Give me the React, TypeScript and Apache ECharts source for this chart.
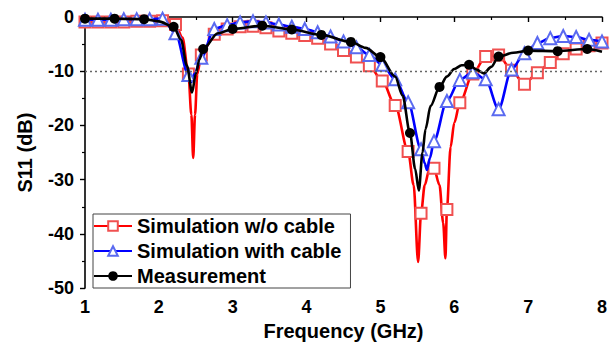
import React, { useEffect, useRef } from "react";
import * as echarts from "echarts";

// Frequencies (GHz) where the simulated curves carry their markers
const simFreq = [
  1.0, 1.175, 1.35, 1.525, 1.7, 1.875, 2.05, 2.225, 2.4, 2.575, 2.75, 2.925, 3.1, 3.275,
  3.45, 3.625, 3.8, 3.975, 4.15, 4.325, 4.5, 4.675, 4.85, 5.025, 5.2, 5.375, 5.55, 5.725,
  5.9, 6.075, 6.25, 6.425, 6.6, 6.775, 6.95, 7.125, 7.3, 7.475, 7.65, 7.825, 8.0,
];

// Simulation without cable (dB) at the marker frequencies
const noCableS11 = [
  -0.9, -0.9, -0.9, -0.9, -0.8, -0.8, -0.7, -1.4, -10.5, -7.0, -3.2, -2.2, -1.8, -1.7,
  -2.0, -2.6, -3.0, -3.4, -3.9, -5.0, -6.2, -7.4, -9.0, -11.8, -16.3, -24.8, -36.2, -27.9,
  -35.5, -15.8, -10.5, -7.3, -7.0, -9.8, -12.4, -10.3, -8.4, -6.8, -5.9, -5.3, -4.8,
];
// Extra points of the same curve around its sharp resonances
const noCableExtraFreq = [2.32, 2.44, 2.465, 2.49, 2.52, 5.45, 5.51, 5.6, 5.66, 5.8, 5.85, 5.88, 5.95, 6.0];
const noCableExtraS11 = [-3.8, -18.0, -26.0, -18.0, -10.5, -31.0, -45.2, -31.0, -28.2, -31.0, -38.0, -44.5, -24.0, -19.5];

// Simulation with cable (dB) at the marker frequencies
const withCableS11 = [
  -0.5, -0.5, -0.5, -0.4, -0.4, -0.4, -0.3, -3.0, -10.7, -7.5, -2.2, -1.5, -1.0, -0.8,
  -1.0, -1.4, -1.8, -2.2, -2.8, -3.6, -4.5, -5.6, -7.0, -8.8, -11.5, -15.7, -24.4, -22.9,
  -15.5, -11.6, -10.2, -11.5, -17.0, -9.7, -6.7, -4.8, -3.9, -3.5, -3.7, -4.2, -4.5,
];
const withCableExtraFreq = [2.44, 2.48, 5.6, 5.63, 5.67];
const withCableExtraS11 = [-12.0, -10.5, -27.0, -28.2, -26.0];

// Measurement (dB): marked points and intermediate points of the curve
const measFreq = [1.0, 1.4, 1.8, 2.2, 2.6, 3.0, 3.4, 3.8, 4.2, 4.6, 5.0, 5.4, 5.8, 6.2, 6.6, 7.0, 7.4, 7.8];
const measS11 = [-0.3, -0.3, -0.4, -1.8, -5.9, -2.2, -1.6, -2.3, -3.3, -4.6, -7.4, -21.4, -12.9, -8.8, -7.3, -6.2, -6.3, -5.9];
const measExtraFreq = [
  2.0, 2.3, 2.38, 2.45, 2.5, 2.55, 2.8, 4.8, 5.2, 5.3, 5.47, 5.52, 5.57, 5.61, 5.68, 5.9, 6.0,
  6.1, 6.3, 6.4, 6.5, 6.8, 8.0,
];
const measExtraS11 = [
  -0.8, -4.2, -9.0, -13.9, -10.5, -7.8, -3.0, -5.7, -11.0, -14.5, -28.0, -32.0, -25.0, -20.7,
  -16.4, -11.0, -9.6, -8.9, -9.7, -10.4, -9.2, -6.6, -6.4,
];

const xTicks = [1, 2, 3, 4, 5, 6, 7, 8];
const yTicks = [-50, -40, -30, -20, -10, 0];
const threshold = -10;

const FONT = "'Liberation Sans', Arial, sans-serif";

function buildCurve(mx: number[], my: number[], ex: number[], ey: number[]) {
  const pts: any[] = [];
  mx.forEach((x, i) => pts.push({ value: [x, my[i]] }));
  ex.forEach((x, i) => pts.push({ value: [x, ey[i]], symbol: "none" }));
  pts.sort((a, b) => a.value[0] - b.value[0]);
  return pts;
}

export default function App() {
  const ref = useRef<HTMLDivElement>(null);

  useEffect(() => {
    if (!ref.current) return;
    const chart = echarts.init(ref.current, undefined, { renderer: "svg" });

    const axisLabel = {
      color: "#000",
      fontSize: 18,
      fontWeight: "bold" as const,
      fontFamily: FONT,
    };

    chart.setOption({
      animation: false,
      backgroundColor: "#fff",
      grid: { left: 85, right: 13, top: 17, bottom: 56, containLabel: false },
      xAxis: {
        type: "value",
        min: xTicks[0],
        max: xTicks[xTicks.length - 1],
        interval: 1,
        name: "Frequency (GHz)",
        nameLocation: "middle",
        nameGap: 30,
        nameTextStyle: { color: "#000", fontSize: 20, fontWeight: "bold", fontFamily: FONT },
        axisLine: { lineStyle: { color: "#000", width: 1.6 } },
        axisTick: { inside: false, length: 5, lineStyle: { color: "#000", width: 1.4 } },
        minorTick: { show: true, splitNumber: 2, length: 3, lineStyle: { color: "#000", width: 1.2 } },
        axisLabel: { ...axisLabel, margin: 10 },
        splitLine: { show: false },
      },
      yAxis: {
        type: "value",
        min: yTicks[0],
        max: yTicks[yTicks.length - 1],
        interval: 10,
        name: "S11 (dB)",
        nameLocation: "middle",
        nameRotate: 90,
        nameGap: 50,
        nameTextStyle: { color: "#000", fontSize: 20, fontWeight: "bold", fontFamily: FONT },
        axisLine: { show: true, lineStyle: { color: "#000", width: 1.6 } },
        axisTick: { show: true, inside: false, length: 5, lineStyle: { color: "#000", width: 1.4 } },
        minorTick: { show: true, splitNumber: 2, length: 3, lineStyle: { color: "#000", width: 1.2 } },
        axisLabel: { ...axisLabel, margin: 11 },
        splitLine: { show: false },
      },
      legend: {
        orient: "vertical",
        left: 93,
        top: 214,
        itemWidth: 38,
        itemHeight: 12,
        itemGap: 5,
        padding: [2, 9, 2, 0],
        borderColor: "#444",
        borderWidth: 1,
        backgroundColor: "#fff",
        textStyle: { color: "#000", fontSize: 20, fontWeight: "bold", fontFamily: FONT },
        data: ["Simulation w/o cable", "Simulation with cable", "Measurement"],
      },
      series: [
        {
          name: "Simulation w/o cable",
          type: "line",
          smooth: 0.3,
          smoothMonotone: "x",
          showAllSymbol: true,
          symbol: "emptyRect",
          symbolSize: 11,
          itemStyle: { color: "#f05050", borderWidth: 1 },
          lineStyle: { color: "#ff0000", width: 2.6 },
          data: buildCurve(simFreq, noCableS11, noCableExtraFreq, noCableExtraS11),
          markLine: {
            silent: true,
            symbol: "none",
            label: { show: false },
            lineStyle: { color: "#666", type: [2, 3], width: 1.3 },
            data: [{ yAxis: threshold }],
          },
          z: 2,
        },
        {
          name: "Simulation with cable",
          type: "line",
          smooth: 0.3,
          smoothMonotone: "x",
          showAllSymbol: true,
          symbol: "emptyTriangle",
          symbolSize: 12,
          itemStyle: { color: "#5a6af0", borderWidth: 1 },
          lineStyle: { color: "#0000ff", width: 2.6 },
          data: buildCurve(simFreq, withCableS11, withCableExtraFreq, withCableExtraS11),
          z: 3,
        },
        {
          name: "Measurement",
          type: "line",
          smooth: 0.3,
          smoothMonotone: "x",
          showAllSymbol: true,
          symbol: "circle",
          symbolSize: 10,
          itemStyle: { color: "#000" },
          lineStyle: { color: "#000", width: 2.6 },
          data: buildCurve(measFreq, measS11, measExtraFreq, measExtraS11),
          z: 4,
        },
      ],
    });

    return () => chart.dispose();
  }, []);

  return (
    <div
      ref={ref}
      style={{ position: "fixed", left: 0, top: 0, width: 615, height: 346, background: "#fff" }}
    />
  );
}
